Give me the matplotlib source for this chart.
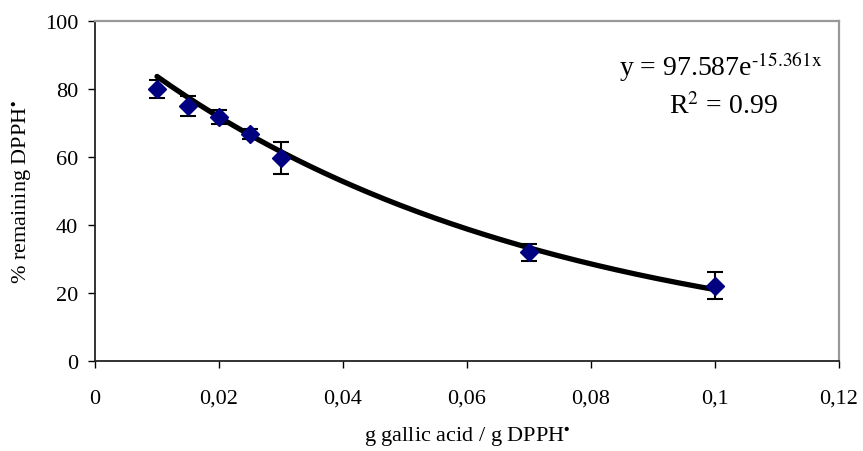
import numpy as np
import matplotlib
matplotlib.use('Agg')
import matplotlib.pyplot as plt
from matplotlib.ticker import FuncFormatter

plt.rcParams['font.family'] = ['Liberation Serif', 'DejaVu Serif']
plt.rcParams['mathtext.fontset'] = 'stix'

# data
ratio = [0.01, 0.015, 0.02, 0.025, 0.03, 0.07, 0.1]
remaining = [80.0, 75.0, 71.8, 66.8, 59.6, 32.0, 22.1]
err = [2.7, 2.8, 2.0, 1.5, 4.7, 2.5, 4.0]
fit_a, fit_b = 97.587, -15.361

fig = plt.figure(figsize=(8.63, 4.52), dpi=100)
# plot area: x 95..839 px, y 22..362 px
ax = fig.add_axes([95/863, 1-362/452, 744/863, 340/452])

xf = np.linspace(min(ratio), max(ratio), 200)
ax.plot(xf, fit_a * np.exp(fit_b * xf), color='black', lw=3.8, zorder=2,
        solid_capstyle='round')
ax.errorbar(ratio, remaining, yerr=err, fmt='D', color='#000080', ms=9,
            ecolor='black', elinewidth=1.5, capsize=5.5, capthick=1.5, zorder=3)

ax.set_xlim(0, 0.12)
ax.set_ylim(0, 100)
ax.set_xticks(np.arange(0, 0.1201, 0.02))
ax.set_yticks(range(0, 101, 20))
ax.xaxis.set_major_formatter(FuncFormatter(lambda v, p: '0' if v == 0 else ('%g' % round(v, 2)).replace('.', ',')))
for s in ['top', 'right']:
    ax.spines[s].set_color('#999999')
    ax.spines[s].set_linewidth(1.6)
for s in ['left', 'bottom']:
    ax.spines[s].set_color('#222222')
    ax.spines[s].set_linewidth(1.3)
ax.tick_params(direction='out', length=5, width=1, labelsize=16)
ax.tick_params(axis='x', pad=15)
ax.tick_params(axis='y', pad=7)

ax.set_xlabel('g gallic acid / g DPPH$^{\\bullet}$', fontsize=16, labelpad=12)
ax.set_ylabel('% remaining DPPH$^{\\bullet}$', fontsize=16, labelpad=8)

ax.text(0.978, 0.868, 'y = 97.587e$^{\\text{-15.361x}}$', transform=ax.transAxes,
        ha='right', va='center', fontsize=20)
ax.text(0.917, 0.75, 'R$^{2}$ = 0.99', transform=ax.transAxes,
        ha='right', va='center', fontsize=20)

fig.savefig('out.png', dpi=100)
